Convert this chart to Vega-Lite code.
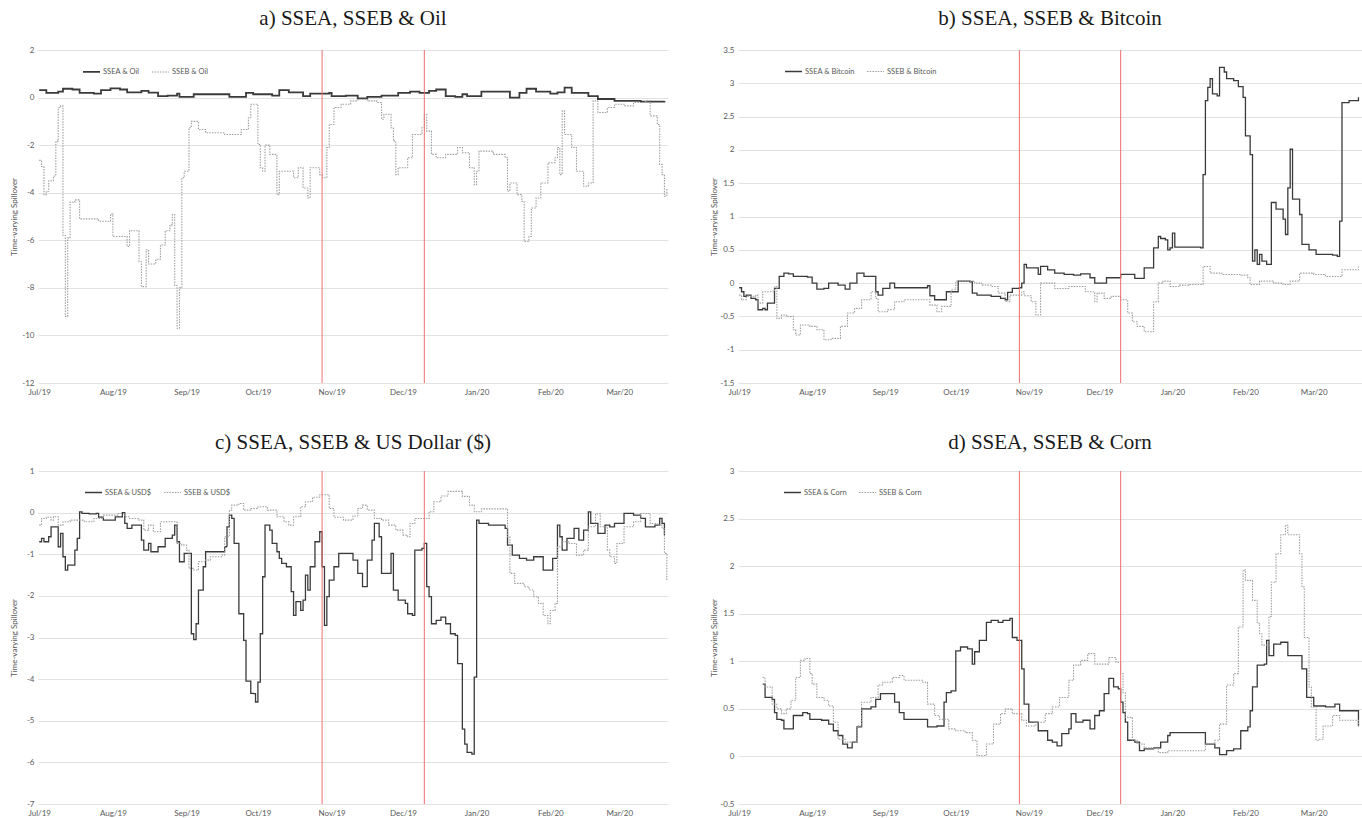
{
  "$schema": "https://vega.github.io/schema/vega-lite/v6.json",
  "background": "white",
  "padding": {"left": 10, "top": 8, "right": 0, "bottom": 0},
  "columns": 2,
  "spacing": {"row": 36, "column": 40},
  "datasets": {
    "events": [
      {"event": "first", "date": "2019-10-28"},
      {"event": "second", "date": "2019-12-10"}
    ],
    "oil": [
      {"date": "2019-07-01", "series": "SSEA & Oil", "value": 0.31},
      {"date": "2019-07-04", "series": "SSEA & Oil", "value": 0.2},
      {"date": "2019-07-09", "series": "SSEA & Oil", "value": 0.25},
      {"date": "2019-07-11", "series": "SSEA & Oil", "value": 0.37},
      {"date": "2019-07-15", "series": "SSEA & Oil", "value": 0.34},
      {"date": "2019-07-18", "series": "SSEA & Oil", "value": 0.2},
      {"date": "2019-07-24", "series": "SSEA & Oil", "value": 0.17},
      {"date": "2019-07-27", "series": "SSEA & Oil", "value": 0.31},
      {"date": "2019-07-31", "series": "SSEA & Oil", "value": 0.39},
      {"date": "2019-08-04", "series": "SSEA & Oil", "value": 0.34},
      {"date": "2019-08-07", "series": "SSEA & Oil", "value": 0.22},
      {"date": "2019-08-13", "series": "SSEA & Oil", "value": 0.28},
      {"date": "2019-08-16", "series": "SSEA & Oil", "value": 0.21},
      {"date": "2019-08-20", "series": "SSEA & Oil", "value": 0.06},
      {"date": "2019-08-24", "series": "SSEA & Oil", "value": 0.08},
      {"date": "2019-08-28", "series": "SSEA & Oil", "value": 0.17},
      {"date": "2019-08-29", "series": "SSEA & Oil", "value": 0.03},
      {"date": "2019-09-02", "series": "SSEA & Oil", "value": 0.03},
      {"date": "2019-09-04", "series": "SSEA & Oil", "value": 0.14},
      {"date": "2019-09-15", "series": "SSEA & Oil", "value": 0.14},
      {"date": "2019-09-19", "series": "SSEA & Oil", "value": 0.03},
      {"date": "2019-09-24", "series": "SSEA & Oil", "value": 0.03},
      {"date": "2019-09-26", "series": "SSEA & Oil", "value": 0.2},
      {"date": "2019-09-29", "series": "SSEA & Oil", "value": 0.14},
      {"date": "2019-10-07", "series": "SSEA & Oil", "value": 0.08},
      {"date": "2019-10-10", "series": "SSEA & Oil", "value": 0.31},
      {"date": "2019-10-14", "series": "SSEA & Oil", "value": 0.22},
      {"date": "2019-10-20", "series": "SSEA & Oil", "value": 0.06},
      {"date": "2019-10-23", "series": "SSEA & Oil", "value": 0.17},
      {"date": "2019-10-31", "series": "SSEA & Oil", "value": 0.2},
      {"date": "2019-11-01", "series": "SSEA & Oil", "value": 0.06},
      {"date": "2019-11-07", "series": "SSEA & Oil", "value": 0.08},
      {"date": "2019-11-12", "series": "SSEA & Oil", "value": -0.03},
      {"date": "2019-11-16", "series": "SSEA & Oil", "value": 0.03},
      {"date": "2019-11-22", "series": "SSEA & Oil", "value": 0.08},
      {"date": "2019-11-29", "series": "SSEA & Oil", "value": 0.2},
      {"date": "2019-12-04", "series": "SSEA & Oil", "value": 0.25},
      {"date": "2019-12-08", "series": "SSEA & Oil", "value": 0.2},
      {"date": "2019-12-12", "series": "SSEA & Oil", "value": 0.28},
      {"date": "2019-12-15", "series": "SSEA & Oil", "value": 0.34},
      {"date": "2019-12-19", "series": "SSEA & Oil", "value": 0.06},
      {"date": "2019-12-23", "series": "SSEA & Oil", "value": 0.03},
      {"date": "2019-12-26", "series": "SSEA & Oil", "value": 0.14},
      {"date": "2019-12-28", "series": "SSEA & Oil", "value": 0.06},
      {"date": "2020-01-03", "series": "SSEA & Oil", "value": 0.25},
      {"date": "2020-01-14", "series": "SSEA & Oil", "value": 0.25},
      {"date": "2020-01-15", "series": "SSEA & Oil", "value": 0},
      {"date": "2020-01-19", "series": "SSEA & Oil", "value": 0.2},
      {"date": "2020-01-22", "series": "SSEA & Oil", "value": 0.37},
      {"date": "2020-01-26", "series": "SSEA & Oil", "value": 0.25},
      {"date": "2020-02-01", "series": "SSEA & Oil", "value": 0.17},
      {"date": "2020-02-04", "series": "SSEA & Oil", "value": 0.22},
      {"date": "2020-02-07", "series": "SSEA & Oil", "value": 0.42},
      {"date": "2020-02-10", "series": "SSEA & Oil", "value": 0.2},
      {"date": "2020-02-17", "series": "SSEA & Oil", "value": 0.06},
      {"date": "2020-02-21", "series": "SSEA & Oil", "value": -0.06},
      {"date": "2020-02-28", "series": "SSEA & Oil", "value": -0.14},
      {"date": "2020-03-10", "series": "SSEA & Oil", "value": -0.17},
      {"date": "2020-03-20", "series": "SSEA & Oil", "value": -0.14},
      {"date": "2019-07-01", "series": "SSEB & Oil", "value": -2.64},
      {"date": "2019-07-02", "series": "SSEB & Oil", "value": -2.9},
      {"date": "2019-07-03", "series": "SSEB & Oil", "value": -4.08},
      {"date": "2019-07-04", "series": "SSEB & Oil", "value": -3.94},
      {"date": "2019-07-05", "series": "SSEB & Oil", "value": -3.5},
      {"date": "2019-07-07", "series": "SSEB & Oil", "value": -3.3},
      {"date": "2019-07-08", "series": "SSEB & Oil", "value": -1.83},
      {"date": "2019-07-09", "series": "SSEB & Oil", "value": -0.42},
      {"date": "2019-07-10", "series": "SSEB & Oil", "value": -0.35},
      {"date": "2019-07-11", "series": "SSEB & Oil", "value": -5.8},
      {"date": "2019-07-12", "series": "SSEB & Oil", "value": -9.2},
      {"date": "2019-07-13", "series": "SSEB & Oil", "value": -5.9},
      {"date": "2019-07-14", "series": "SSEB & Oil", "value": -4.4},
      {"date": "2019-07-15", "series": "SSEB & Oil", "value": -4.4},
      {"date": "2019-07-16", "series": "SSEB & Oil", "value": -4.3},
      {"date": "2019-07-18", "series": "SSEB & Oil", "value": -5.1},
      {"date": "2019-07-20", "series": "SSEB & Oil", "value": -5.1},
      {"date": "2019-07-26", "series": "SSEB & Oil", "value": -5.2},
      {"date": "2019-07-30", "series": "SSEB & Oil", "value": -5.2},
      {"date": "2019-07-31", "series": "SSEB & Oil", "value": -4.9},
      {"date": "2019-08-01", "series": "SSEB & Oil", "value": -5.84},
      {"date": "2019-08-05", "series": "SSEB & Oil", "value": -5.84},
      {"date": "2019-08-07", "series": "SSEB & Oil", "value": -6.26},
      {"date": "2019-08-08", "series": "SSEB & Oil", "value": -5.6},
      {"date": "2019-08-11", "series": "SSEB & Oil", "value": -5.6},
      {"date": "2019-08-12", "series": "SSEB & Oil", "value": -6.9},
      {"date": "2019-08-13", "series": "SSEB & Oil", "value": -7.95},
      {"date": "2019-08-14", "series": "SSEB & Oil", "value": -7.95},
      {"date": "2019-08-15", "series": "SSEB & Oil", "value": -6.4},
      {"date": "2019-08-16", "series": "SSEB & Oil", "value": -7.0},
      {"date": "2019-08-19", "series": "SSEB & Oil", "value": -6.8},
      {"date": "2019-08-21", "series": "SSEB & Oil", "value": -6.2},
      {"date": "2019-08-23", "series": "SSEB & Oil", "value": -5.6},
      {"date": "2019-08-25", "series": "SSEB & Oil", "value": -5.35},
      {"date": "2019-08-26", "series": "SSEB & Oil", "value": -4.92},
      {"date": "2019-08-27", "series": "SSEB & Oil", "value": -7.9},
      {"date": "2019-08-28", "series": "SSEB & Oil", "value": -9.7},
      {"date": "2019-08-29", "series": "SSEB & Oil", "value": -8.0},
      {"date": "2019-08-30", "series": "SSEB & Oil", "value": -3.37},
      {"date": "2019-08-31", "series": "SSEB & Oil", "value": -3.1},
      {"date": "2019-09-02", "series": "SSEB & Oil", "value": -1.27},
      {"date": "2019-09-03", "series": "SSEB & Oil", "value": -1.0},
      {"date": "2019-09-06", "series": "SSEB & Oil", "value": -1.34},
      {"date": "2019-09-09", "series": "SSEB & Oil", "value": -1.48},
      {"date": "2019-09-17", "series": "SSEB & Oil", "value": -1.55},
      {"date": "2019-09-20", "series": "SSEB & Oil", "value": -1.55},
      {"date": "2019-09-24", "series": "SSEB & Oil", "value": -1.34},
      {"date": "2019-09-27", "series": "SSEB & Oil", "value": -0.85},
      {"date": "2019-09-28", "series": "SSEB & Oil", "value": -0.28},
      {"date": "2019-09-30", "series": "SSEB & Oil", "value": -0.28},
      {"date": "2019-10-01", "series": "SSEB & Oil", "value": -1.97},
      {"date": "2019-10-02", "series": "SSEB & Oil", "value": -2.95},
      {"date": "2019-10-03", "series": "SSEB & Oil", "value": -3.1},
      {"date": "2019-10-04", "series": "SSEB & Oil", "value": -2.0},
      {"date": "2019-10-06", "series": "SSEB & Oil", "value": -2.39},
      {"date": "2019-10-09", "series": "SSEB & Oil", "value": -4.08},
      {"date": "2019-10-10", "series": "SSEB & Oil", "value": -3.1},
      {"date": "2019-10-14", "series": "SSEB & Oil", "value": -3.1},
      {"date": "2019-10-16", "series": "SSEB & Oil", "value": -3.37},
      {"date": "2019-10-18", "series": "SSEB & Oil", "value": -2.95},
      {"date": "2019-10-20", "series": "SSEB & Oil", "value": -3.8},
      {"date": "2019-10-22", "series": "SSEB & Oil", "value": -4.22},
      {"date": "2019-10-23", "series": "SSEB & Oil", "value": -2.95},
      {"date": "2019-10-25", "series": "SSEB & Oil", "value": -2.95},
      {"date": "2019-10-27", "series": "SSEB & Oil", "value": -3.24},
      {"date": "2019-10-28", "series": "SSEB & Oil", "value": -3.37},
      {"date": "2019-10-30", "series": "SSEB & Oil", "value": -2.1},
      {"date": "2019-10-31", "series": "SSEB & Oil", "value": -1.13},
      {"date": "2019-11-02", "series": "SSEB & Oil", "value": -0.42},
      {"date": "2019-11-05", "series": "SSEB & Oil", "value": -0.28},
      {"date": "2019-11-09", "series": "SSEB & Oil", "value": -0.14},
      {"date": "2019-11-12", "series": "SSEB & Oil", "value": -0.07},
      {"date": "2019-11-16", "series": "SSEB & Oil", "value": -0.14},
      {"date": "2019-11-20", "series": "SSEB & Oil", "value": -0.21},
      {"date": "2019-11-22", "series": "SSEB & Oil", "value": -0.91},
      {"date": "2019-11-23", "series": "SSEB & Oil", "value": -0.7},
      {"date": "2019-11-26", "series": "SSEB & Oil", "value": -1.27},
      {"date": "2019-11-27", "series": "SSEB & Oil", "value": -1.83},
      {"date": "2019-11-28", "series": "SSEB & Oil", "value": -3.24},
      {"date": "2019-11-29", "series": "SSEB & Oil", "value": -2.95},
      {"date": "2019-12-01", "series": "SSEB & Oil", "value": -2.95},
      {"date": "2019-12-03", "series": "SSEB & Oil", "value": -2.53},
      {"date": "2019-12-05", "series": "SSEB & Oil", "value": -1.55},
      {"date": "2019-12-09", "series": "SSEB & Oil", "value": -1.27},
      {"date": "2019-12-10", "series": "SSEB & Oil", "value": -0.7},
      {"date": "2019-12-11", "series": "SSEB & Oil", "value": -1.41},
      {"date": "2019-12-13", "series": "SSEB & Oil", "value": -2.39},
      {"date": "2019-12-15", "series": "SSEB & Oil", "value": -2.53},
      {"date": "2019-12-19", "series": "SSEB & Oil", "value": -2.39},
      {"date": "2019-12-24", "series": "SSEB & Oil", "value": -2.1},
      {"date": "2019-12-26", "series": "SSEB & Oil", "value": -2.32},
      {"date": "2019-12-29", "series": "SSEB & Oil", "value": -2.95},
      {"date": "2019-12-31", "series": "SSEB & Oil", "value": -3.66},
      {"date": "2020-01-01", "series": "SSEB & Oil", "value": -3.1},
      {"date": "2020-01-02", "series": "SSEB & Oil", "value": -2.25},
      {"date": "2020-01-08", "series": "SSEB & Oil", "value": -2.39},
      {"date": "2020-01-13", "series": "SSEB & Oil", "value": -2.53},
      {"date": "2020-01-14", "series": "SSEB & Oil", "value": -3.94},
      {"date": "2020-01-15", "series": "SSEB & Oil", "value": -3.59},
      {"date": "2020-01-18", "series": "SSEB & Oil", "value": -4.08},
      {"date": "2020-01-20", "series": "SSEB & Oil", "value": -4.36},
      {"date": "2020-01-21", "series": "SSEB & Oil", "value": -6.05},
      {"date": "2020-01-23", "series": "SSEB & Oil", "value": -5.84},
      {"date": "2020-01-24", "series": "SSEB & Oil", "value": -4.64},
      {"date": "2020-01-26", "series": "SSEB & Oil", "value": -4.22},
      {"date": "2020-01-28", "series": "SSEB & Oil", "value": -3.59},
      {"date": "2020-01-31", "series": "SSEB & Oil", "value": -2.74},
      {"date": "2020-02-03", "series": "SSEB & Oil", "value": -2.53},
      {"date": "2020-02-04", "series": "SSEB & Oil", "value": -2.1},
      {"date": "2020-02-05", "series": "SSEB & Oil", "value": -3.24},
      {"date": "2020-02-06", "series": "SSEB & Oil", "value": -0.56},
      {"date": "2020-02-07", "series": "SSEB & Oil", "value": -1.55},
      {"date": "2020-02-10", "series": "SSEB & Oil", "value": -2.1},
      {"date": "2020-02-12", "series": "SSEB & Oil", "value": -3.1},
      {"date": "2020-02-15", "series": "SSEB & Oil", "value": -3.73},
      {"date": "2020-02-17", "series": "SSEB & Oil", "value": -3.59},
      {"date": "2020-02-19", "series": "SSEB & Oil", "value": -0.14},
      {"date": "2020-02-21", "series": "SSEB & Oil", "value": -0.63},
      {"date": "2020-02-25", "series": "SSEB & Oil", "value": -0.42},
      {"date": "2020-02-28", "series": "SSEB & Oil", "value": -0.28},
      {"date": "2020-03-03", "series": "SSEB & Oil", "value": -0.35},
      {"date": "2020-03-07", "series": "SSEB & Oil", "value": -0.21},
      {"date": "2020-03-12", "series": "SSEB & Oil", "value": -0.14},
      {"date": "2020-03-14", "series": "SSEB & Oil", "value": -0.77},
      {"date": "2020-03-17", "series": "SSEB & Oil", "value": -1.13},
      {"date": "2020-03-18", "series": "SSEB & Oil", "value": -2.81},
      {"date": "2020-03-19", "series": "SSEB & Oil", "value": -3.24},
      {"date": "2020-03-20", "series": "SSEB & Oil", "value": -4.15},
      {"date": "2020-03-21", "series": "SSEB & Oil", "value": -3.8}
    ],
    "bitcoin": [
      {"date": "2019-07-01", "series": "SSEA & Bitcoin", "value": -0.07},
      {"date": "2019-07-02", "series": "SSEA & Bitcoin", "value": -0.13},
      {"date": "2019-07-03", "series": "SSEA & Bitcoin", "value": -0.2},
      {"date": "2019-07-04", "series": "SSEA & Bitcoin", "value": -0.18},
      {"date": "2019-07-06", "series": "SSEA & Bitcoin", "value": -0.23},
      {"date": "2019-07-08", "series": "SSEA & Bitcoin", "value": -0.25},
      {"date": "2019-07-09", "series": "SSEA & Bitcoin", "value": -0.4},
      {"date": "2019-07-11", "series": "SSEA & Bitcoin", "value": -0.38},
      {"date": "2019-07-12", "series": "SSEA & Bitcoin", "value": -0.4},
      {"date": "2019-07-13", "series": "SSEA & Bitcoin", "value": -0.3},
      {"date": "2019-07-15", "series": "SSEA & Bitcoin", "value": -0.3},
      {"date": "2019-07-16", "series": "SSEA & Bitcoin", "value": -0.08},
      {"date": "2019-07-18", "series": "SSEA & Bitcoin", "value": 0.1},
      {"date": "2019-07-20", "series": "SSEA & Bitcoin", "value": 0.15},
      {"date": "2019-07-22", "series": "SSEA & Bitcoin", "value": 0.14},
      {"date": "2019-07-24", "series": "SSEA & Bitcoin", "value": 0.1},
      {"date": "2019-07-30", "series": "SSEA & Bitcoin", "value": 0.09},
      {"date": "2019-08-01", "series": "SSEA & Bitcoin", "value": 0},
      {"date": "2019-08-03", "series": "SSEA & Bitcoin", "value": -0.09},
      {"date": "2019-08-06", "series": "SSEA & Bitcoin", "value": -0.08},
      {"date": "2019-08-08", "series": "SSEA & Bitcoin", "value": 0},
      {"date": "2019-08-12", "series": "SSEA & Bitcoin", "value": -0.03},
      {"date": "2019-08-15", "series": "SSEA & Bitcoin", "value": -0.09},
      {"date": "2019-08-17", "series": "SSEA & Bitcoin", "value": 0},
      {"date": "2019-08-20", "series": "SSEA & Bitcoin", "value": 0.15},
      {"date": "2019-08-22", "series": "SSEA & Bitcoin", "value": 0.15},
      {"date": "2019-08-23", "series": "SSEA & Bitcoin", "value": 0.1},
      {"date": "2019-08-26", "series": "SSEA & Bitcoin", "value": 0.1},
      {"date": "2019-08-28", "series": "SSEA & Bitcoin", "value": -0.13},
      {"date": "2019-08-29", "series": "SSEA & Bitcoin", "value": -0.18},
      {"date": "2019-08-31", "series": "SSEA & Bitcoin", "value": -0.08},
      {"date": "2019-09-03", "series": "SSEA & Bitcoin", "value": 0},
      {"date": "2019-09-05", "series": "SSEA & Bitcoin", "value": -0.07},
      {"date": "2019-09-07", "series": "SSEA & Bitcoin", "value": -0.07},
      {"date": "2019-09-19", "series": "SSEA & Bitcoin", "value": -0.04},
      {"date": "2019-09-20", "series": "SSEA & Bitcoin", "value": -0.19},
      {"date": "2019-09-22", "series": "SSEA & Bitcoin", "value": -0.25},
      {"date": "2019-09-25", "series": "SSEA & Bitcoin", "value": -0.25},
      {"date": "2019-09-27", "series": "SSEA & Bitcoin", "value": -0.13},
      {"date": "2019-09-30", "series": "SSEA & Bitcoin", "value": -0.13},
      {"date": "2019-10-02", "series": "SSEA & Bitcoin", "value": 0.03},
      {"date": "2019-10-07", "series": "SSEA & Bitcoin", "value": 0.02},
      {"date": "2019-10-08", "series": "SSEA & Bitcoin", "value": -0.15},
      {"date": "2019-10-10", "series": "SSEA & Bitcoin", "value": -0.18},
      {"date": "2019-10-14", "series": "SSEA & Bitcoin", "value": -0.18},
      {"date": "2019-10-16", "series": "SSEA & Bitcoin", "value": -0.2},
      {"date": "2019-10-20", "series": "SSEA & Bitcoin", "value": -0.23},
      {"date": "2019-10-22", "series": "SSEA & Bitcoin", "value": -0.25},
      {"date": "2019-10-23", "series": "SSEA & Bitcoin", "value": -0.14},
      {"date": "2019-10-25", "series": "SSEA & Bitcoin", "value": -0.08},
      {"date": "2019-10-28", "series": "SSEA & Bitcoin", "value": -0.07},
      {"date": "2019-10-29", "series": "SSEA & Bitcoin", "value": 0},
      {"date": "2019-10-30", "series": "SSEA & Bitcoin", "value": 0.28},
      {"date": "2019-10-31", "series": "SSEA & Bitcoin", "value": 0.23},
      {"date": "2019-11-03", "series": "SSEA & Bitcoin", "value": 0.23},
      {"date": "2019-11-05", "series": "SSEA & Bitcoin", "value": 0.13},
      {"date": "2019-11-06", "series": "SSEA & Bitcoin", "value": 0.25},
      {"date": "2019-11-09", "series": "SSEA & Bitcoin", "value": 0.2},
      {"date": "2019-11-12", "series": "SSEA & Bitcoin", "value": 0.15},
      {"date": "2019-11-16", "series": "SSEA & Bitcoin", "value": 0.13},
      {"date": "2019-11-20", "series": "SSEA & Bitcoin", "value": 0.12},
      {"date": "2019-11-23", "series": "SSEA & Bitcoin", "value": 0.14},
      {"date": "2019-11-27", "series": "SSEA & Bitcoin", "value": 0.08},
      {"date": "2019-11-29", "series": "SSEA & Bitcoin", "value": 0},
      {"date": "2019-12-01", "series": "SSEA & Bitcoin", "value": 0},
      {"date": "2019-12-04", "series": "SSEA & Bitcoin", "value": 0.08},
      {"date": "2019-12-08", "series": "SSEA & Bitcoin", "value": 0.08},
      {"date": "2019-12-10", "series": "SSEA & Bitcoin", "value": 0.13},
      {"date": "2019-12-13", "series": "SSEA & Bitcoin", "value": 0.13},
      {"date": "2019-12-16", "series": "SSEA & Bitcoin", "value": 0.07},
      {"date": "2019-12-20", "series": "SSEA & Bitcoin", "value": 0.23},
      {"date": "2019-12-23", "series": "SSEA & Bitcoin", "value": 0.23},
      {"date": "2019-12-24", "series": "SSEA & Bitcoin", "value": 0.53},
      {"date": "2019-12-26", "series": "SSEA & Bitcoin", "value": 0.7},
      {"date": "2019-12-27", "series": "SSEA & Bitcoin", "value": 0.67},
      {"date": "2019-12-29", "series": "SSEA & Bitcoin", "value": 0.65},
      {"date": "2019-12-30", "series": "SSEA & Bitcoin", "value": 0.5},
      {"date": "2019-12-31", "series": "SSEA & Bitcoin", "value": 0.53},
      {"date": "2020-01-01", "series": "SSEA & Bitcoin", "value": 0.75},
      {"date": "2020-01-02", "series": "SSEA & Bitcoin", "value": 0.54},
      {"date": "2020-01-08", "series": "SSEA & Bitcoin", "value": 0.54},
      {"date": "2020-01-13", "series": "SSEA & Bitcoin", "value": 0.53},
      {"date": "2020-01-14", "series": "SSEA & Bitcoin", "value": 1.63},
      {"date": "2020-01-15", "series": "SSEA & Bitcoin", "value": 2.74},
      {"date": "2020-01-16", "series": "SSEA & Bitcoin", "value": 2.94},
      {"date": "2020-01-17", "series": "SSEA & Bitcoin", "value": 3.07},
      {"date": "2020-01-18", "series": "SSEA & Bitcoin", "value": 2.84},
      {"date": "2020-01-20", "series": "SSEA & Bitcoin", "value": 2.81},
      {"date": "2020-01-21", "series": "SSEA & Bitcoin", "value": 3.24},
      {"date": "2020-01-23", "series": "SSEA & Bitcoin", "value": 3.17},
      {"date": "2020-01-24", "series": "SSEA & Bitcoin", "value": 3.07},
      {"date": "2020-01-27", "series": "SSEA & Bitcoin", "value": 3.04},
      {"date": "2020-01-29", "series": "SSEA & Bitcoin", "value": 2.95},
      {"date": "2020-01-31", "series": "SSEA & Bitcoin", "value": 2.79},
      {"date": "2020-02-01", "series": "SSEA & Bitcoin", "value": 2.21},
      {"date": "2020-02-03", "series": "SSEA & Bitcoin", "value": 1.93},
      {"date": "2020-02-04", "series": "SSEA & Bitcoin", "value": 0.33},
      {"date": "2020-02-05", "series": "SSEA & Bitcoin", "value": 0.5},
      {"date": "2020-02-06", "series": "SSEA & Bitcoin", "value": 0.28},
      {"date": "2020-02-07", "series": "SSEA & Bitcoin", "value": 0.43},
      {"date": "2020-02-08", "series": "SSEA & Bitcoin", "value": 0.33},
      {"date": "2020-02-10", "series": "SSEA & Bitcoin", "value": 0.28},
      {"date": "2020-02-12", "series": "SSEA & Bitcoin", "value": 1.21},
      {"date": "2020-02-14", "series": "SSEA & Bitcoin", "value": 1.11},
      {"date": "2020-02-16", "series": "SSEA & Bitcoin", "value": 1.11},
      {"date": "2020-02-17", "series": "SSEA & Bitcoin", "value": 0.96},
      {"date": "2020-02-18", "series": "SSEA & Bitcoin", "value": 0.73},
      {"date": "2020-02-19", "series": "SSEA & Bitcoin", "value": 1.43},
      {"date": "2020-02-20", "series": "SSEA & Bitcoin", "value": 2.01},
      {"date": "2020-02-21", "series": "SSEA & Bitcoin", "value": 1.26},
      {"date": "2020-02-24", "series": "SSEA & Bitcoin", "value": 1.03},
      {"date": "2020-02-25", "series": "SSEA & Bitcoin", "value": 0.58},
      {"date": "2020-02-28", "series": "SSEA & Bitcoin", "value": 0.5},
      {"date": "2020-03-02", "series": "SSEA & Bitcoin", "value": 0.43},
      {"date": "2020-03-09", "series": "SSEA & Bitcoin", "value": 0.42},
      {"date": "2020-03-11", "series": "SSEA & Bitcoin", "value": 0.4},
      {"date": "2020-03-12", "series": "SSEA & Bitcoin", "value": 0.93},
      {"date": "2020-03-13", "series": "SSEA & Bitcoin", "value": 2.71},
      {"date": "2020-03-16", "series": "SSEA & Bitcoin", "value": 2.74},
      {"date": "2020-03-20", "series": "SSEA & Bitcoin", "value": 2.79},
      {"date": "2019-07-01", "series": "SSEB & Bitcoin", "value": -0.18},
      {"date": "2019-07-02", "series": "SSEB & Bitcoin", "value": -0.25},
      {"date": "2019-07-04", "series": "SSEB & Bitcoin", "value": -0.2},
      {"date": "2019-07-08", "series": "SSEB & Bitcoin", "value": -0.18},
      {"date": "2019-07-09", "series": "SSEB & Bitcoin", "value": -0.3},
      {"date": "2019-07-11", "series": "SSEB & Bitcoin", "value": -0.13},
      {"date": "2019-07-15", "series": "SSEB & Bitcoin", "value": -0.13},
      {"date": "2019-07-16", "series": "SSEB & Bitcoin", "value": -0.05},
      {"date": "2019-07-17", "series": "SSEB & Bitcoin", "value": -0.53},
      {"date": "2019-07-19", "series": "SSEB & Bitcoin", "value": -0.48},
      {"date": "2019-07-21", "series": "SSEB & Bitcoin", "value": -0.5},
      {"date": "2019-07-24", "series": "SSEB & Bitcoin", "value": -0.7},
      {"date": "2019-07-25", "series": "SSEB & Bitcoin", "value": -0.78},
      {"date": "2019-07-27", "series": "SSEB & Bitcoin", "value": -0.63},
      {"date": "2019-07-31", "series": "SSEB & Bitcoin", "value": -0.65},
      {"date": "2019-08-03", "series": "SSEB & Bitcoin", "value": -0.7},
      {"date": "2019-08-05", "series": "SSEB & Bitcoin", "value": -0.7},
      {"date": "2019-08-06", "series": "SSEB & Bitcoin", "value": -0.85},
      {"date": "2019-08-09", "series": "SSEB & Bitcoin", "value": -0.83},
      {"date": "2019-08-11", "series": "SSEB & Bitcoin", "value": -0.83},
      {"date": "2019-08-13", "series": "SSEB & Bitcoin", "value": -0.65},
      {"date": "2019-08-16", "series": "SSEB & Bitcoin", "value": -0.45},
      {"date": "2019-08-19", "series": "SSEB & Bitcoin", "value": -0.38},
      {"date": "2019-08-22", "series": "SSEB & Bitcoin", "value": -0.25},
      {"date": "2019-08-26", "series": "SSEB & Bitcoin", "value": -0.13},
      {"date": "2019-08-28", "series": "SSEB & Bitcoin", "value": -0.23},
      {"date": "2019-08-29", "series": "SSEB & Bitcoin", "value": -0.43},
      {"date": "2019-09-02", "series": "SSEB & Bitcoin", "value": -0.4},
      {"date": "2019-09-05", "series": "SSEB & Bitcoin", "value": -0.28},
      {"date": "2019-09-09", "series": "SSEB & Bitcoin", "value": -0.25},
      {"date": "2019-09-18", "series": "SSEB & Bitcoin", "value": -0.25},
      {"date": "2019-09-20", "series": "SSEB & Bitcoin", "value": -0.33},
      {"date": "2019-09-23", "series": "SSEB & Bitcoin", "value": -0.43},
      {"date": "2019-09-25", "series": "SSEB & Bitcoin", "value": -0.35},
      {"date": "2019-09-29", "series": "SSEB & Bitcoin", "value": -0.1},
      {"date": "2019-10-01", "series": "SSEB & Bitcoin", "value": 0.03},
      {"date": "2019-10-05", "series": "SSEB & Bitcoin", "value": 0.03},
      {"date": "2019-10-09", "series": "SSEB & Bitcoin", "value": 0},
      {"date": "2019-10-12", "series": "SSEB & Bitcoin", "value": -0.03},
      {"date": "2019-10-16", "series": "SSEB & Bitcoin", "value": -0.05},
      {"date": "2019-10-19", "series": "SSEB & Bitcoin", "value": -0.15},
      {"date": "2019-10-22", "series": "SSEB & Bitcoin", "value": -0.28},
      {"date": "2019-10-24", "series": "SSEB & Bitcoin", "value": -0.18},
      {"date": "2019-10-27", "series": "SSEB & Bitcoin", "value": -0.18},
      {"date": "2019-10-29", "series": "SSEB & Bitcoin", "value": -0.13},
      {"date": "2019-10-30", "series": "SSEB & Bitcoin", "value": -0.19},
      {"date": "2019-11-02", "series": "SSEB & Bitcoin", "value": -0.28},
      {"date": "2019-11-04", "series": "SSEB & Bitcoin", "value": -0.48},
      {"date": "2019-11-06", "series": "SSEB & Bitcoin", "value": 0},
      {"date": "2019-11-09", "series": "SSEB & Bitcoin", "value": 0},
      {"date": "2019-11-12", "series": "SSEB & Bitcoin", "value": -0.08},
      {"date": "2019-11-18", "series": "SSEB & Bitcoin", "value": -0.05},
      {"date": "2019-11-21", "series": "SSEB & Bitcoin", "value": -0.05},
      {"date": "2019-11-25", "series": "SSEB & Bitcoin", "value": -0.13},
      {"date": "2019-11-29", "series": "SSEB & Bitcoin", "value": -0.28},
      {"date": "2019-11-30", "series": "SSEB & Bitcoin", "value": -0.15},
      {"date": "2019-12-03", "series": "SSEB & Bitcoin", "value": -0.23},
      {"date": "2019-12-06", "series": "SSEB & Bitcoin", "value": -0.2},
      {"date": "2019-12-09", "series": "SSEB & Bitcoin", "value": -0.2},
      {"date": "2019-12-10", "series": "SSEB & Bitcoin", "value": -0.25},
      {"date": "2019-12-13", "series": "SSEB & Bitcoin", "value": -0.45},
      {"date": "2019-12-15", "series": "SSEB & Bitcoin", "value": -0.58},
      {"date": "2019-12-17", "series": "SSEB & Bitcoin", "value": -0.65},
      {"date": "2019-12-20", "series": "SSEB & Bitcoin", "value": -0.73},
      {"date": "2019-12-23", "series": "SSEB & Bitcoin", "value": -0.73},
      {"date": "2019-12-24", "series": "SSEB & Bitcoin", "value": -0.28},
      {"date": "2019-12-26", "series": "SSEB & Bitcoin", "value": 0},
      {"date": "2019-12-28", "series": "SSEB & Bitcoin", "value": 0.03},
      {"date": "2019-12-31", "series": "SSEB & Bitcoin", "value": -0.05},
      {"date": "2020-01-04", "series": "SSEB & Bitcoin", "value": -0.03},
      {"date": "2020-01-08", "series": "SSEB & Bitcoin", "value": -0.02},
      {"date": "2020-01-13", "series": "SSEB & Bitcoin", "value": -0.02},
      {"date": "2020-01-14", "series": "SSEB & Bitcoin", "value": 0.25},
      {"date": "2020-01-17", "series": "SSEB & Bitcoin", "value": 0.15},
      {"date": "2020-01-22", "series": "SSEB & Bitcoin", "value": 0.13},
      {"date": "2020-01-30", "series": "SSEB & Bitcoin", "value": 0.12},
      {"date": "2020-02-02", "series": "SSEB & Bitcoin", "value": 0.08},
      {"date": "2020-02-03", "series": "SSEB & Bitcoin", "value": -0.02},
      {"date": "2020-02-07", "series": "SSEB & Bitcoin", "value": 0.03},
      {"date": "2020-02-13", "series": "SSEB & Bitcoin", "value": 0},
      {"date": "2020-02-17", "series": "SSEB & Bitcoin", "value": -0.02},
      {"date": "2020-02-20", "series": "SSEB & Bitcoin", "value": 0.03},
      {"date": "2020-02-24", "series": "SSEB & Bitcoin", "value": 0.15},
      {"date": "2020-03-01", "series": "SSEB & Bitcoin", "value": 0.13},
      {"date": "2020-03-06", "series": "SSEB & Bitcoin", "value": 0.1},
      {"date": "2020-03-11", "series": "SSEB & Bitcoin", "value": 0.1},
      {"date": "2020-03-13", "series": "SSEB & Bitcoin", "value": 0.2},
      {"date": "2020-03-20", "series": "SSEB & Bitcoin", "value": 0.25}
    ],
    "usd": [
      {"date": "2019-07-01", "series": "SSEA & USD$", "value": -0.7},
      {"date": "2019-07-02", "series": "SSEA & USD$", "value": -0.62},
      {"date": "2019-07-03", "series": "SSEA & USD$", "value": -0.7},
      {"date": "2019-07-05", "series": "SSEA & USD$", "value": -0.58},
      {"date": "2019-07-06", "series": "SSEA & USD$", "value": -0.34},
      {"date": "2019-07-08", "series": "SSEA & USD$", "value": -0.34},
      {"date": "2019-07-09", "series": "SSEA & USD$", "value": -0.82},
      {"date": "2019-07-10", "series": "SSEA & USD$", "value": -0.5},
      {"date": "2019-07-11", "series": "SSEA & USD$", "value": -1.06},
      {"date": "2019-07-12", "series": "SSEA & USD$", "value": -1.38},
      {"date": "2019-07-13", "series": "SSEA & USD$", "value": -1.26},
      {"date": "2019-07-15", "series": "SSEA & USD$", "value": -1.26},
      {"date": "2019-07-16", "series": "SSEA & USD$", "value": -0.9},
      {"date": "2019-07-17", "series": "SSEA & USD$", "value": -0.62},
      {"date": "2019-07-18", "series": "SSEA & USD$", "value": 0.02},
      {"date": "2019-07-19", "series": "SSEA & USD$", "value": -0.02},
      {"date": "2019-07-22", "series": "SSEA & USD$", "value": -0.03},
      {"date": "2019-07-25", "series": "SSEA & USD$", "value": -0.02},
      {"date": "2019-07-26", "series": "SSEA & USD$", "value": -0.11},
      {"date": "2019-07-28", "series": "SSEA & USD$", "value": -0.18},
      {"date": "2019-07-31", "series": "SSEA & USD$", "value": -0.18},
      {"date": "2019-08-02", "series": "SSEA & USD$", "value": -0.1},
      {"date": "2019-08-05", "series": "SSEA & USD$", "value": 0},
      {"date": "2019-08-06", "series": "SSEA & USD$", "value": -0.26},
      {"date": "2019-08-07", "series": "SSEA & USD$", "value": -0.38},
      {"date": "2019-08-09", "series": "SSEA & USD$", "value": -0.3},
      {"date": "2019-08-12", "series": "SSEA & USD$", "value": -0.3},
      {"date": "2019-08-13", "series": "SSEA & USD$", "value": -0.66},
      {"date": "2019-08-14", "series": "SSEA & USD$", "value": -0.9},
      {"date": "2019-08-16", "series": "SSEA & USD$", "value": -0.74},
      {"date": "2019-08-17", "series": "SSEA & USD$", "value": -0.94},
      {"date": "2019-08-20", "series": "SSEA & USD$", "value": -0.82},
      {"date": "2019-08-23", "series": "SSEA & USD$", "value": -0.62},
      {"date": "2019-08-26", "series": "SSEA & USD$", "value": -0.54},
      {"date": "2019-08-27", "series": "SSEA & USD$", "value": -0.3},
      {"date": "2019-08-28", "series": "SSEA & USD$", "value": -0.7},
      {"date": "2019-08-29", "series": "SSEA & USD$", "value": -1.18},
      {"date": "2019-08-31", "series": "SSEA & USD$", "value": -0.98},
      {"date": "2019-09-02", "series": "SSEA & USD$", "value": -0.98},
      {"date": "2019-09-03", "series": "SSEA & USD$", "value": -2.91},
      {"date": "2019-09-04", "series": "SSEA & USD$", "value": -3.05},
      {"date": "2019-09-05", "series": "SSEA & USD$", "value": -2.67},
      {"date": "2019-09-06", "series": "SSEA & USD$", "value": -1.86},
      {"date": "2019-09-08", "series": "SSEA & USD$", "value": -1.3},
      {"date": "2019-09-09", "series": "SSEA & USD$", "value": -0.94},
      {"date": "2019-09-17", "series": "SSEA & USD$", "value": -0.82},
      {"date": "2019-09-18", "series": "SSEA & USD$", "value": -0.34},
      {"date": "2019-09-19", "series": "SSEA & USD$", "value": -0.06},
      {"date": "2019-09-20", "series": "SSEA & USD$", "value": -0.14},
      {"date": "2019-09-21", "series": "SSEA & USD$", "value": -0.74},
      {"date": "2019-09-23", "series": "SSEA & USD$", "value": -2.43},
      {"date": "2019-09-25", "series": "SSEA & USD$", "value": -3.07},
      {"date": "2019-09-26", "series": "SSEA & USD$", "value": -4.05},
      {"date": "2019-09-28", "series": "SSEA & USD$", "value": -4.34},
      {"date": "2019-09-29", "series": "SSEA & USD$", "value": -4.35},
      {"date": "2019-09-30", "series": "SSEA & USD$", "value": -4.55},
      {"date": "2019-10-01", "series": "SSEA & USD$", "value": -4.07},
      {"date": "2019-10-02", "series": "SSEA & USD$", "value": -2.91},
      {"date": "2019-10-03", "series": "SSEA & USD$", "value": -1.54},
      {"date": "2019-10-04", "series": "SSEA & USD$", "value": -0.3},
      {"date": "2019-10-06", "series": "SSEA & USD$", "value": -0.42},
      {"date": "2019-10-07", "series": "SSEA & USD$", "value": -0.74},
      {"date": "2019-10-09", "series": "SSEA & USD$", "value": -0.94},
      {"date": "2019-10-10", "series": "SSEA & USD$", "value": -1.1},
      {"date": "2019-10-11", "series": "SSEA & USD$", "value": -1.22},
      {"date": "2019-10-13", "series": "SSEA & USD$", "value": -1.3},
      {"date": "2019-10-15", "series": "SSEA & USD$", "value": -1.9},
      {"date": "2019-10-16", "series": "SSEA & USD$", "value": -2.47},
      {"date": "2019-10-17", "series": "SSEA & USD$", "value": -2.14},
      {"date": "2019-10-19", "series": "SSEA & USD$", "value": -2.35},
      {"date": "2019-10-20", "series": "SSEA & USD$", "value": -2.1},
      {"date": "2019-10-21", "series": "SSEA & USD$", "value": -1.5},
      {"date": "2019-10-22", "series": "SSEA & USD$", "value": -1.86},
      {"date": "2019-10-23", "series": "SSEA & USD$", "value": -1.3},
      {"date": "2019-10-25", "series": "SSEA & USD$", "value": -0.7},
      {"date": "2019-10-27", "series": "SSEA & USD$", "value": -0.46},
      {"date": "2019-10-28", "series": "SSEA & USD$", "value": -1.3},
      {"date": "2019-10-29", "series": "SSEA & USD$", "value": -2.71},
      {"date": "2019-10-30", "series": "SSEA & USD$", "value": -2.02},
      {"date": "2019-10-31", "series": "SSEA & USD$", "value": -1.62},
      {"date": "2019-11-02", "series": "SSEA & USD$", "value": -1.3},
      {"date": "2019-11-04", "series": "SSEA & USD$", "value": -0.98},
      {"date": "2019-11-06", "series": "SSEA & USD$", "value": -0.98},
      {"date": "2019-11-10", "series": "SSEA & USD$", "value": -1.14},
      {"date": "2019-11-12", "series": "SSEA & USD$", "value": -1.46},
      {"date": "2019-11-14", "series": "SSEA & USD$", "value": -1.78},
      {"date": "2019-11-16", "series": "SSEA & USD$", "value": -1.14},
      {"date": "2019-11-18", "series": "SSEA & USD$", "value": -0.66},
      {"date": "2019-11-19", "series": "SSEA & USD$", "value": -0.26},
      {"date": "2019-11-21", "series": "SSEA & USD$", "value": -0.58},
      {"date": "2019-11-22", "series": "SSEA & USD$", "value": -1.46},
      {"date": "2019-11-25", "series": "SSEA & USD$", "value": -1.46},
      {"date": "2019-11-26", "series": "SSEA & USD$", "value": -0.98},
      {"date": "2019-11-27", "series": "SSEA & USD$", "value": -1.86},
      {"date": "2019-11-29", "series": "SSEA & USD$", "value": -2.1},
      {"date": "2019-12-02", "series": "SSEA & USD$", "value": -2.18},
      {"date": "2019-12-03", "series": "SSEA & USD$", "value": -2.43},
      {"date": "2019-12-05", "series": "SSEA & USD$", "value": -2.47},
      {"date": "2019-12-06", "series": "SSEA & USD$", "value": -0.9},
      {"date": "2019-12-09", "series": "SSEA & USD$", "value": -0.86},
      {"date": "2019-12-10", "series": "SSEA & USD$", "value": -0.74},
      {"date": "2019-12-11", "series": "SSEA & USD$", "value": -1.78},
      {"date": "2019-12-12", "series": "SSEA & USD$", "value": -2.02},
      {"date": "2019-12-13", "series": "SSEA & USD$", "value": -2.67},
      {"date": "2019-12-15", "series": "SSEA & USD$", "value": -2.59},
      {"date": "2019-12-17", "series": "SSEA & USD$", "value": -2.51},
      {"date": "2019-12-19", "series": "SSEA & USD$", "value": -2.67},
      {"date": "2019-12-21", "series": "SSEA & USD$", "value": -2.91},
      {"date": "2019-12-23", "series": "SSEA & USD$", "value": -2.95},
      {"date": "2019-12-24", "series": "SSEA & USD$", "value": -3.63},
      {"date": "2019-12-26", "series": "SSEA & USD$", "value": -5.2},
      {"date": "2019-12-27", "series": "SSEA & USD$", "value": -5.56},
      {"date": "2019-12-28", "series": "SSEA & USD$", "value": -5.76},
      {"date": "2019-12-30", "series": "SSEA & USD$", "value": -5.8},
      {"date": "2019-12-31", "series": "SSEA & USD$", "value": -3.95},
      {"date": "2020-01-01", "series": "SSEA & USD$", "value": -0.18},
      {"date": "2020-01-02", "series": "SSEA & USD$", "value": -0.26},
      {"date": "2020-01-06", "series": "SSEA & USD$", "value": -0.3},
      {"date": "2020-01-13", "series": "SSEA & USD$", "value": -0.38},
      {"date": "2020-01-14", "series": "SSEA & USD$", "value": -0.78},
      {"date": "2020-01-16", "series": "SSEA & USD$", "value": -1.02},
      {"date": "2020-01-19", "series": "SSEA & USD$", "value": -1.1},
      {"date": "2020-01-22", "series": "SSEA & USD$", "value": -1.14},
      {"date": "2020-01-25", "series": "SSEA & USD$", "value": -1.06},
      {"date": "2020-01-27", "series": "SSEA & USD$", "value": -1.06},
      {"date": "2020-01-29", "series": "SSEA & USD$", "value": -1.38},
      {"date": "2020-01-31", "series": "SSEA & USD$", "value": -1.38},
      {"date": "2020-02-02", "series": "SSEA & USD$", "value": -1.1},
      {"date": "2020-02-04", "series": "SSEA & USD$", "value": -0.3},
      {"date": "2020-02-05", "series": "SSEA & USD$", "value": -0.58},
      {"date": "2020-02-06", "series": "SSEA & USD$", "value": -0.9},
      {"date": "2020-02-08", "series": "SSEA & USD$", "value": -0.62},
      {"date": "2020-02-11", "series": "SSEA & USD$", "value": -0.38},
      {"date": "2020-02-13", "series": "SSEA & USD$", "value": -0.66},
      {"date": "2020-02-15", "series": "SSEA & USD$", "value": -0.42},
      {"date": "2020-02-17", "series": "SSEA & USD$", "value": 0.02},
      {"date": "2020-02-18", "series": "SSEA & USD$", "value": -0.26},
      {"date": "2020-02-21", "series": "SSEA & USD$", "value": -0.5},
      {"date": "2020-02-24", "series": "SSEA & USD$", "value": -0.3},
      {"date": "2020-02-26", "series": "SSEA & USD$", "value": -0.34},
      {"date": "2020-02-28", "series": "SSEA & USD$", "value": -0.26},
      {"date": "2020-03-03", "series": "SSEA & USD$", "value": -0.02},
      {"date": "2020-03-07", "series": "SSEA & USD$", "value": -0.06},
      {"date": "2020-03-10", "series": "SSEA & USD$", "value": -0.14},
      {"date": "2020-03-12", "series": "SSEA & USD$", "value": -0.34},
      {"date": "2020-03-16", "series": "SSEA & USD$", "value": -0.3},
      {"date": "2020-03-18", "series": "SSEA & USD$", "value": -0.14},
      {"date": "2020-03-19", "series": "SSEA & USD$", "value": -0.26},
      {"date": "2020-03-20", "series": "SSEA & USD$", "value": -0.54},
      {"date": "2019-07-01", "series": "SSEB & USD$", "value": -0.3},
      {"date": "2019-07-02", "series": "SSEB & USD$", "value": -0.14},
      {"date": "2019-07-04", "series": "SSEB & USD$", "value": -0.11},
      {"date": "2019-07-06", "series": "SSEB & USD$", "value": -0.18},
      {"date": "2019-07-07", "series": "SSEB & USD$", "value": -0.1},
      {"date": "2019-07-09", "series": "SSEB & USD$", "value": -0.3},
      {"date": "2019-07-11", "series": "SSEB & USD$", "value": -0.22},
      {"date": "2019-07-14", "series": "SSEB & USD$", "value": -0.18},
      {"date": "2019-07-18", "series": "SSEB & USD$", "value": -0.18},
      {"date": "2019-07-20", "series": "SSEB & USD$", "value": -0.22},
      {"date": "2019-07-24", "series": "SSEB & USD$", "value": -0.14},
      {"date": "2019-07-28", "series": "SSEB & USD$", "value": -0.06},
      {"date": "2019-07-30", "series": "SSEB & USD$", "value": -0.06},
      {"date": "2019-08-03", "series": "SSEB & USD$", "value": -0.02},
      {"date": "2019-08-06", "series": "SSEB & USD$", "value": -0.1},
      {"date": "2019-08-08", "series": "SSEB & USD$", "value": -0.14},
      {"date": "2019-08-12", "series": "SSEB & USD$", "value": -0.18},
      {"date": "2019-08-14", "series": "SSEB & USD$", "value": -0.42},
      {"date": "2019-08-16", "series": "SSEB & USD$", "value": -0.3},
      {"date": "2019-08-18", "series": "SSEB & USD$", "value": -0.46},
      {"date": "2019-08-21", "series": "SSEB & USD$", "value": -0.22},
      {"date": "2019-08-26", "series": "SSEB & USD$", "value": -0.22},
      {"date": "2019-08-28", "series": "SSEB & USD$", "value": -0.74},
      {"date": "2019-08-30", "series": "SSEB & USD$", "value": -0.78},
      {"date": "2019-09-01", "series": "SSEB & USD$", "value": -0.9},
      {"date": "2019-09-02", "series": "SSEB & USD$", "value": -1.34},
      {"date": "2019-09-04", "series": "SSEB & USD$", "value": -1.38},
      {"date": "2019-09-06", "series": "SSEB & USD$", "value": -1.18},
      {"date": "2019-09-09", "series": "SSEB & USD$", "value": -1.14},
      {"date": "2019-09-11", "series": "SSEB & USD$", "value": -1.06},
      {"date": "2019-09-16", "series": "SSEB & USD$", "value": -1.02},
      {"date": "2019-09-17", "series": "SSEB & USD$", "value": -0.58},
      {"date": "2019-09-19", "series": "SSEB & USD$", "value": 0.06},
      {"date": "2019-09-20", "series": "SSEB & USD$", "value": 0.18},
      {"date": "2019-09-23", "series": "SSEB & USD$", "value": 0.22},
      {"date": "2019-09-25", "series": "SSEB & USD$", "value": 0.06},
      {"date": "2019-09-28", "series": "SSEB & USD$", "value": 0.1},
      {"date": "2019-10-01", "series": "SSEB & USD$", "value": 0.14},
      {"date": "2019-10-05", "series": "SSEB & USD$", "value": 0.06},
      {"date": "2019-10-09", "series": "SSEB & USD$", "value": -0.1},
      {"date": "2019-10-12", "series": "SSEB & USD$", "value": -0.22},
      {"date": "2019-10-14", "series": "SSEB & USD$", "value": -0.3},
      {"date": "2019-10-16", "series": "SSEB & USD$", "value": -0.1},
      {"date": "2019-10-19", "series": "SSEB & USD$", "value": 0.14},
      {"date": "2019-10-21", "series": "SSEB & USD$", "value": 0.26},
      {"date": "2019-10-24", "series": "SSEB & USD$", "value": 0.37},
      {"date": "2019-10-27", "series": "SSEB & USD$", "value": 0.43},
      {"date": "2019-10-29", "series": "SSEB & USD$", "value": 0.43},
      {"date": "2019-10-31", "series": "SSEB & USD$", "value": 0.1},
      {"date": "2019-11-02", "series": "SSEB & USD$", "value": -0.11},
      {"date": "2019-11-06", "series": "SSEB & USD$", "value": -0.18},
      {"date": "2019-11-10", "series": "SSEB & USD$", "value": -0.08},
      {"date": "2019-11-12", "series": "SSEB & USD$", "value": 0.1},
      {"date": "2019-11-14", "series": "SSEB & USD$", "value": 0.18},
      {"date": "2019-11-16", "series": "SSEB & USD$", "value": 0.06},
      {"date": "2019-11-19", "series": "SSEB & USD$", "value": -0.14},
      {"date": "2019-11-22", "series": "SSEB & USD$", "value": -0.18},
      {"date": "2019-11-25", "series": "SSEB & USD$", "value": -0.3},
      {"date": "2019-11-28", "series": "SSEB & USD$", "value": -0.42},
      {"date": "2019-12-01", "series": "SSEB & USD$", "value": -0.54},
      {"date": "2019-12-03", "series": "SSEB & USD$", "value": -0.58},
      {"date": "2019-12-04", "series": "SSEB & USD$", "value": -0.26},
      {"date": "2019-12-06", "series": "SSEB & USD$", "value": -0.14},
      {"date": "2019-12-09", "series": "SSEB & USD$", "value": -0.14},
      {"date": "2019-12-12", "series": "SSEB & USD$", "value": 0.02},
      {"date": "2019-12-14", "series": "SSEB & USD$", "value": 0.26},
      {"date": "2019-12-17", "series": "SSEB & USD$", "value": 0.4},
      {"date": "2019-12-20", "series": "SSEB & USD$", "value": 0.51},
      {"date": "2019-12-23", "series": "SSEB & USD$", "value": 0.51},
      {"date": "2019-12-26", "series": "SSEB & USD$", "value": 0.39},
      {"date": "2019-12-29", "series": "SSEB & USD$", "value": 0.18},
      {"date": "2019-12-31", "series": "SSEB & USD$", "value": 0.02},
      {"date": "2020-01-03", "series": "SSEB & USD$", "value": 0.09},
      {"date": "2020-01-08", "series": "SSEB & USD$", "value": 0.09},
      {"date": "2020-01-13", "series": "SSEB & USD$", "value": 0.09},
      {"date": "2020-01-14", "series": "SSEB & USD$", "value": -0.58},
      {"date": "2020-01-15", "series": "SSEB & USD$", "value": -1.46},
      {"date": "2020-01-17", "series": "SSEB & USD$", "value": -1.7},
      {"date": "2020-01-21", "series": "SSEB & USD$", "value": -1.78},
      {"date": "2020-01-23", "series": "SSEB & USD$", "value": -1.86},
      {"date": "2020-01-25", "series": "SSEB & USD$", "value": -2.02},
      {"date": "2020-01-27", "series": "SSEB & USD$", "value": -2.18},
      {"date": "2020-01-29", "series": "SSEB & USD$", "value": -2.47},
      {"date": "2020-01-31", "series": "SSEB & USD$", "value": -2.67},
      {"date": "2020-02-01", "series": "SSEB & USD$", "value": -2.35},
      {"date": "2020-02-03", "series": "SSEB & USD$", "value": -2.18},
      {"date": "2020-02-04", "series": "SSEB & USD$", "value": -0.82},
      {"date": "2020-02-06", "series": "SSEB & USD$", "value": -0.7},
      {"date": "2020-02-09", "series": "SSEB & USD$", "value": -0.74},
      {"date": "2020-02-12", "series": "SSEB & USD$", "value": -1.02},
      {"date": "2020-02-15", "series": "SSEB & USD$", "value": -0.9},
      {"date": "2020-02-17", "series": "SSEB & USD$", "value": -0.34},
      {"date": "2020-02-20", "series": "SSEB & USD$", "value": -0.03},
      {"date": "2020-02-22", "series": "SSEB & USD$", "value": -0.34},
      {"date": "2020-02-25", "series": "SSEB & USD$", "value": -0.9},
      {"date": "2020-02-26", "series": "SSEB & USD$", "value": -1.06},
      {"date": "2020-02-28", "series": "SSEB & USD$", "value": -1.22},
      {"date": "2020-02-29", "series": "SSEB & USD$", "value": -0.74},
      {"date": "2020-03-03", "series": "SSEB & USD$", "value": -0.34},
      {"date": "2020-03-07", "series": "SSEB & USD$", "value": -0.22},
      {"date": "2020-03-10", "series": "SSEB & USD$", "value": -0.02},
      {"date": "2020-03-14", "series": "SSEB & USD$", "value": -0.26},
      {"date": "2020-03-17", "series": "SSEB & USD$", "value": -0.3},
      {"date": "2020-03-19", "series": "SSEB & USD$", "value": -0.38},
      {"date": "2020-03-20", "series": "SSEB & USD$", "value": -0.98},
      {"date": "2020-03-21", "series": "SSEB & USD$", "value": -1.62}
    ],
    "corn": [
      {"date": "2019-07-11", "series": "SSEA & Corn", "value": 0.76},
      {"date": "2019-07-12", "series": "SSEA & Corn", "value": 0.62},
      {"date": "2019-07-15", "series": "SSEA & Corn", "value": 0.6},
      {"date": "2019-07-16", "series": "SSEA & Corn", "value": 0.46},
      {"date": "2019-07-17", "series": "SSEA & Corn", "value": 0.39},
      {"date": "2019-07-19", "series": "SSEA & Corn", "value": 0.38},
      {"date": "2019-07-20", "series": "SSEA & Corn", "value": 0.29},
      {"date": "2019-07-22", "series": "SSEA & Corn", "value": 0.29},
      {"date": "2019-07-24", "series": "SSEA & Corn", "value": 0.43},
      {"date": "2019-07-26", "series": "SSEA & Corn", "value": 0.43},
      {"date": "2019-07-28", "series": "SSEA & Corn", "value": 0.46},
      {"date": "2019-07-30", "series": "SSEA & Corn", "value": 0.45},
      {"date": "2019-07-31", "series": "SSEA & Corn", "value": 0.39},
      {"date": "2019-08-05", "series": "SSEA & Corn", "value": 0.38},
      {"date": "2019-08-08", "series": "SSEA & Corn", "value": 0.34},
      {"date": "2019-08-10", "series": "SSEA & Corn", "value": 0.27},
      {"date": "2019-08-12", "series": "SSEA & Corn", "value": 0.22},
      {"date": "2019-08-14", "series": "SSEA & Corn", "value": 0.13},
      {"date": "2019-08-16", "series": "SSEA & Corn", "value": 0.09},
      {"date": "2019-08-18", "series": "SSEA & Corn", "value": 0.15},
      {"date": "2019-08-19", "series": "SSEA & Corn", "value": 0.15},
      {"date": "2019-08-20", "series": "SSEA & Corn", "value": 0.31},
      {"date": "2019-08-22", "series": "SSEA & Corn", "value": 0.5},
      {"date": "2019-08-26", "series": "SSEA & Corn", "value": 0.52},
      {"date": "2019-08-28", "series": "SSEA & Corn", "value": 0.6},
      {"date": "2019-08-30", "series": "SSEA & Corn", "value": 0.66},
      {"date": "2019-09-03", "series": "SSEA & Corn", "value": 0.66},
      {"date": "2019-09-05", "series": "SSEA & Corn", "value": 0.57},
      {"date": "2019-09-07", "series": "SSEA & Corn", "value": 0.46},
      {"date": "2019-09-09", "series": "SSEA & Corn", "value": 0.39},
      {"date": "2019-09-17", "series": "SSEA & Corn", "value": 0.39},
      {"date": "2019-09-19", "series": "SSEA & Corn", "value": 0.31},
      {"date": "2019-09-23", "series": "SSEA & Corn", "value": 0.32},
      {"date": "2019-09-26", "series": "SSEA & Corn", "value": 0.57},
      {"date": "2019-09-27", "series": "SSEA & Corn", "value": 0.67},
      {"date": "2019-09-29", "series": "SSEA & Corn", "value": 0.69},
      {"date": "2019-10-01", "series": "SSEA & Corn", "value": 1.11},
      {"date": "2019-10-03", "series": "SSEA & Corn", "value": 1.15},
      {"date": "2019-10-06", "series": "SSEA & Corn", "value": 1.13},
      {"date": "2019-10-08", "series": "SSEA & Corn", "value": 0.97},
      {"date": "2019-10-09", "series": "SSEA & Corn", "value": 1.1},
      {"date": "2019-10-11", "series": "SSEA & Corn", "value": 1.22},
      {"date": "2019-10-13", "series": "SSEA & Corn", "value": 1.22},
      {"date": "2019-10-14", "series": "SSEA & Corn", "value": 1.41},
      {"date": "2019-10-16", "series": "SSEA & Corn", "value": 1.43},
      {"date": "2019-10-19", "series": "SSEA & Corn", "value": 1.41},
      {"date": "2019-10-21", "series": "SSEA & Corn", "value": 1.43},
      {"date": "2019-10-24", "series": "SSEA & Corn", "value": 1.45},
      {"date": "2019-10-25", "series": "SSEA & Corn", "value": 1.25},
      {"date": "2019-10-27", "series": "SSEA & Corn", "value": 1.22},
      {"date": "2019-10-29", "series": "SSEA & Corn", "value": 0.92},
      {"date": "2019-10-30", "series": "SSEA & Corn", "value": 0.55},
      {"date": "2019-11-01", "series": "SSEA & Corn", "value": 0.36},
      {"date": "2019-11-03", "series": "SSEA & Corn", "value": 0.36},
      {"date": "2019-11-05", "series": "SSEA & Corn", "value": 0.27},
      {"date": "2019-11-09", "series": "SSEA & Corn", "value": 0.17},
      {"date": "2019-11-11", "series": "SSEA & Corn", "value": 0.15},
      {"date": "2019-11-13", "series": "SSEA & Corn", "value": 0.11},
      {"date": "2019-11-15", "series": "SSEA & Corn", "value": 0.24},
      {"date": "2019-11-18", "series": "SSEA & Corn", "value": 0.29},
      {"date": "2019-11-19", "series": "SSEA & Corn", "value": 0.45},
      {"date": "2019-11-21", "series": "SSEA & Corn", "value": 0.36},
      {"date": "2019-11-24", "series": "SSEA & Corn", "value": 0.38},
      {"date": "2019-11-27", "series": "SSEA & Corn", "value": 0.29},
      {"date": "2019-11-29", "series": "SSEA & Corn", "value": 0.43},
      {"date": "2019-12-01", "series": "SSEA & Corn", "value": 0.48},
      {"date": "2019-12-03", "series": "SSEA & Corn", "value": 0.66},
      {"date": "2019-12-05", "series": "SSEA & Corn", "value": 0.82},
      {"date": "2019-12-07", "series": "SSEA & Corn", "value": 0.73},
      {"date": "2019-12-09", "series": "SSEA & Corn", "value": 0.71},
      {"date": "2019-12-10", "series": "SSEA & Corn", "value": 0.57},
      {"date": "2019-12-11", "series": "SSEA & Corn", "value": 0.46},
      {"date": "2019-12-12", "series": "SSEA & Corn", "value": 0.36},
      {"date": "2019-12-13", "series": "SSEA & Corn", "value": 0.17},
      {"date": "2019-12-16", "series": "SSEA & Corn", "value": 0.15},
      {"date": "2019-12-18", "series": "SSEA & Corn", "value": 0.06},
      {"date": "2019-12-20", "series": "SSEA & Corn", "value": 0.08},
      {"date": "2019-12-24", "series": "SSEA & Corn", "value": 0.09},
      {"date": "2019-12-27", "series": "SSEA & Corn", "value": 0.15},
      {"date": "2019-12-30", "series": "SSEA & Corn", "value": 0.22},
      {"date": "2019-12-31", "series": "SSEA & Corn", "value": 0.25},
      {"date": "2020-01-13", "series": "SSEA & Corn", "value": 0.25},
      {"date": "2020-01-15", "series": "SSEA & Corn", "value": 0.13},
      {"date": "2020-01-19", "series": "SSEA & Corn", "value": 0.09},
      {"date": "2020-01-21", "series": "SSEA & Corn", "value": 0.02},
      {"date": "2020-01-24", "series": "SSEA & Corn", "value": 0.06},
      {"date": "2020-01-27", "series": "SSEA & Corn", "value": 0.08},
      {"date": "2020-01-30", "series": "SSEA & Corn", "value": 0.27},
      {"date": "2020-02-02", "series": "SSEA & Corn", "value": 0.31},
      {"date": "2020-02-03", "series": "SSEA & Corn", "value": 0.48},
      {"date": "2020-02-04", "series": "SSEA & Corn", "value": 0.73},
      {"date": "2020-02-06", "series": "SSEA & Corn", "value": 0.96},
      {"date": "2020-02-09", "series": "SSEA & Corn", "value": 0.97},
      {"date": "2020-02-10", "series": "SSEA & Corn", "value": 1.22},
      {"date": "2020-02-11", "series": "SSEA & Corn", "value": 1.06},
      {"date": "2020-02-13", "series": "SSEA & Corn", "value": 1.18},
      {"date": "2020-02-16", "series": "SSEA & Corn", "value": 1.2},
      {"date": "2020-02-19", "series": "SSEA & Corn", "value": 1.06},
      {"date": "2020-02-24", "series": "SSEA & Corn", "value": 1.06},
      {"date": "2020-02-25", "series": "SSEA & Corn", "value": 0.92},
      {"date": "2020-02-27", "series": "SSEA & Corn", "value": 0.62},
      {"date": "2020-03-01", "series": "SSEA & Corn", "value": 0.53},
      {"date": "2020-03-06", "series": "SSEA & Corn", "value": 0.52},
      {"date": "2020-03-10", "series": "SSEA & Corn", "value": 0.55},
      {"date": "2020-03-12", "series": "SSEA & Corn", "value": 0.48},
      {"date": "2020-03-17", "series": "SSEA & Corn", "value": 0.48},
      {"date": "2020-03-20", "series": "SSEA & Corn", "value": 0.32},
      {"date": "2019-07-11", "series": "SSEB & Corn", "value": 0.83},
      {"date": "2019-07-12", "series": "SSEB & Corn", "value": 0.73},
      {"date": "2019-07-15", "series": "SSEB & Corn", "value": 0.55},
      {"date": "2019-07-17", "series": "SSEB & Corn", "value": 0.5},
      {"date": "2019-07-19", "series": "SSEB & Corn", "value": 0.45},
      {"date": "2019-07-21", "series": "SSEB & Corn", "value": 0.5},
      {"date": "2019-07-23", "series": "SSEB & Corn", "value": 0.59},
      {"date": "2019-07-25", "series": "SSEB & Corn", "value": 0.83},
      {"date": "2019-07-27", "series": "SSEB & Corn", "value": 1.01},
      {"date": "2019-07-29", "series": "SSEB & Corn", "value": 1.03},
      {"date": "2019-07-31", "series": "SSEB & Corn", "value": 0.87},
      {"date": "2019-08-01", "series": "SSEB & Corn", "value": 0.76},
      {"date": "2019-08-03", "series": "SSEB & Corn", "value": 0.62},
      {"date": "2019-08-06", "series": "SSEB & Corn", "value": 0.59},
      {"date": "2019-08-08", "series": "SSEB & Corn", "value": 0.53},
      {"date": "2019-08-10", "series": "SSEB & Corn", "value": 0.36},
      {"date": "2019-08-12", "series": "SSEB & Corn", "value": 0.18},
      {"date": "2019-08-15", "series": "SSEB & Corn", "value": 0.15},
      {"date": "2019-08-17", "series": "SSEB & Corn", "value": 0.15},
      {"date": "2019-08-20", "series": "SSEB & Corn", "value": 0.32},
      {"date": "2019-08-22", "series": "SSEB & Corn", "value": 0.57},
      {"date": "2019-08-26", "series": "SSEB & Corn", "value": 0.62},
      {"date": "2019-08-29", "series": "SSEB & Corn", "value": 0.75},
      {"date": "2019-08-31", "series": "SSEB & Corn", "value": 0.78},
      {"date": "2019-09-04", "series": "SSEB & Corn", "value": 0.83},
      {"date": "2019-09-07", "series": "SSEB & Corn", "value": 0.85},
      {"date": "2019-09-09", "series": "SSEB & Corn", "value": 0.8},
      {"date": "2019-09-17", "series": "SSEB & Corn", "value": 0.78},
      {"date": "2019-09-19", "series": "SSEB & Corn", "value": 0.55},
      {"date": "2019-09-22", "series": "SSEB & Corn", "value": 0.43},
      {"date": "2019-09-24", "series": "SSEB & Corn", "value": 0.39},
      {"date": "2019-09-28", "series": "SSEB & Corn", "value": 0.29},
      {"date": "2019-10-01", "series": "SSEB & Corn", "value": 0.27},
      {"date": "2019-10-05", "series": "SSEB & Corn", "value": 0.25},
      {"date": "2019-10-08", "series": "SSEB & Corn", "value": 0.17},
      {"date": "2019-10-10", "series": "SSEB & Corn", "value": 0.01},
      {"date": "2019-10-13", "series": "SSEB & Corn", "value": 0.01},
      {"date": "2019-10-14", "series": "SSEB & Corn", "value": 0.13},
      {"date": "2019-10-17", "series": "SSEB & Corn", "value": 0.34},
      {"date": "2019-10-20", "series": "SSEB & Corn", "value": 0.45},
      {"date": "2019-10-22", "series": "SSEB & Corn", "value": 0.5},
      {"date": "2019-10-25", "series": "SSEB & Corn", "value": 0.45},
      {"date": "2019-10-29", "series": "SSEB & Corn", "value": 0.38},
      {"date": "2019-10-31", "series": "SSEB & Corn", "value": 0.32},
      {"date": "2019-11-04", "series": "SSEB & Corn", "value": 0.36},
      {"date": "2019-11-08", "series": "SSEB & Corn", "value": 0.45},
      {"date": "2019-11-11", "series": "SSEB & Corn", "value": 0.52},
      {"date": "2019-11-14", "series": "SSEB & Corn", "value": 0.62},
      {"date": "2019-11-18", "series": "SSEB & Corn", "value": 0.8},
      {"date": "2019-11-20", "series": "SSEB & Corn", "value": 0.96},
      {"date": "2019-11-23", "series": "SSEB & Corn", "value": 1.01},
      {"date": "2019-11-26", "series": "SSEB & Corn", "value": 1.08},
      {"date": "2019-11-29", "series": "SSEB & Corn", "value": 0.97},
      {"date": "2019-12-02", "series": "SSEB & Corn", "value": 0.97},
      {"date": "2019-12-05", "series": "SSEB & Corn", "value": 1.04},
      {"date": "2019-12-08", "series": "SSEB & Corn", "value": 0.99},
      {"date": "2019-12-10", "series": "SSEB & Corn", "value": 0.87},
      {"date": "2019-12-11", "series": "SSEB & Corn", "value": 0.67},
      {"date": "2019-12-12", "series": "SSEB & Corn", "value": 0.41},
      {"date": "2019-12-15", "series": "SSEB & Corn", "value": 0.17},
      {"date": "2019-12-17", "series": "SSEB & Corn", "value": 0.13},
      {"date": "2019-12-20", "series": "SSEB & Corn", "value": 0.09},
      {"date": "2019-12-24", "series": "SSEB & Corn", "value": 0.08},
      {"date": "2019-12-26", "series": "SSEB & Corn", "value": 0.04},
      {"date": "2019-12-30", "series": "SSEB & Corn", "value": 0.06},
      {"date": "2020-01-13", "series": "SSEB & Corn", "value": 0.06},
      {"date": "2020-01-15", "series": "SSEB & Corn", "value": 0.13},
      {"date": "2020-01-19", "series": "SSEB & Corn", "value": 0.17},
      {"date": "2020-01-21", "series": "SSEB & Corn", "value": 0.34},
      {"date": "2020-01-24", "series": "SSEB & Corn", "value": 0.75},
      {"date": "2020-01-27", "series": "SSEB & Corn", "value": 0.87},
      {"date": "2020-01-29", "series": "SSEB & Corn", "value": 1.36},
      {"date": "2020-01-31", "series": "SSEB & Corn", "value": 1.96},
      {"date": "2020-02-01", "series": "SSEB & Corn", "value": 1.85},
      {"date": "2020-02-03", "series": "SSEB & Corn", "value": 1.85},
      {"date": "2020-02-04", "series": "SSEB & Corn", "value": 1.64},
      {"date": "2020-02-06", "series": "SSEB & Corn", "value": 1.4},
      {"date": "2020-02-07", "series": "SSEB & Corn", "value": 1.29},
      {"date": "2020-02-08", "series": "SSEB & Corn", "value": 1.17},
      {"date": "2020-02-10", "series": "SSEB & Corn", "value": 1.17},
      {"date": "2020-02-11", "series": "SSEB & Corn", "value": 1.47},
      {"date": "2020-02-12", "series": "SSEB & Corn", "value": 1.83},
      {"date": "2020-02-14", "series": "SSEB & Corn", "value": 2.13},
      {"date": "2020-02-16", "series": "SSEB & Corn", "value": 2.33},
      {"date": "2020-02-18", "series": "SSEB & Corn", "value": 2.43},
      {"date": "2020-02-19", "series": "SSEB & Corn", "value": 2.33},
      {"date": "2020-02-23", "series": "SSEB & Corn", "value": 2.33},
      {"date": "2020-02-24", "series": "SSEB & Corn", "value": 2.13},
      {"date": "2020-02-25", "series": "SSEB & Corn", "value": 1.78},
      {"date": "2020-02-26", "series": "SSEB & Corn", "value": 1.25},
      {"date": "2020-02-28", "series": "SSEB & Corn", "value": 0.73},
      {"date": "2020-02-29", "series": "SSEB & Corn", "value": 0.52},
      {"date": "2020-03-02", "series": "SSEB & Corn", "value": 0.17},
      {"date": "2020-03-03", "series": "SSEB & Corn", "value": 0.18},
      {"date": "2020-03-05", "series": "SSEB & Corn", "value": 0.32},
      {"date": "2020-03-09", "series": "SSEB & Corn", "value": 0.43},
      {"date": "2020-03-12", "series": "SSEB & Corn", "value": 0.38},
      {"date": "2020-03-17", "series": "SSEB & Corn", "value": 0.38},
      {"date": "2020-03-20", "series": "SSEB & Corn", "value": 0.31}
    ]
  },
  "concat": [
    {
      "width": 630,
      "height": 333,
      "title": {"text": "a) SSEA, SSEB & Oil", "offset": 17},
      "encoding": {
        "x": {
          "field": "date", "type": "temporal",
          "scale": {"type": "utc", "domain": [{"year": 2019, "month": 6, "date": 30, "hours": 12, "utc": true}, {"year": 2020, "month": 3, "date": 21, "hours": 12, "utc": true}]},
          "axis": {"title": null, "labelExpr": "utcFormat(datum.value, '%b/%y')", "values": [
            {"year": 2019, "month": 7, "date": 1, "utc": true}, {"year": 2019, "month": 8, "date": 1, "utc": true}, {"year": 2019, "month": 9, "date": 1, "utc": true},
            {"year": 2019, "month": 10, "date": 1, "utc": true}, {"year": 2019, "month": 11, "date": 1, "utc": true}, {"year": 2019, "month": 12, "date": 1, "utc": true},
            {"year": 2020, "month": 1, "date": 1, "utc": true}, {"year": 2020, "month": 2, "date": 1, "utc": true}, {"year": 2020, "month": 3, "date": 1, "utc": true}]}
        }
      },
      "layer": [
        {
          "data": {"name": "oil"},
          "mark": {"type": "line", "interpolate": "step-after"},
          "encoding": {
            "y": {"field": "value", "type": "quantitative", "scale": {"domain": [-12, 2], "nice": false, "zero": false},
                  "axis": {"title": "Time-varying Spillover", "values": [-12, -10, -8, -6, -4, -2, 0, 2], "labelExpr": "toString(datum.value)"}},
            "color": {"field": "series", "type": "nominal", "scale": {"domain": ["SSEA & Oil", "SSEB & Oil"], "range": ["#3a3a3a", "#9e9e9e"]},
                      "legend": {"title": null, "orient": "none", "direction": "horizontal", "legendX": 44, "legendY": 12}},
            "strokeDash": {"field": "series", "type": "nominal", "scale": {"domain": ["SSEA & Oil", "SSEB & Oil"], "range": [[1, 0], [1.5, 1.2]]},
                      "legend": {"title": null, "orient": "none", "direction": "horizontal", "legendX": 44, "legendY": 12}},
            "strokeWidth": {"field": "series", "type": "nominal", "scale": {"type": "ordinal", "domain": ["SSEA & Oil", "SSEB & Oil"], "range": [1.8, 1.1]}, "legend": null}
          }
        },
        {
          "data": {"name": "events"},
          "mark": {"type": "rule", "color": "#ef6f6f", "strokeWidth": 1},
          "encoding": {}
        }
      ]
    },
    {
      "width": 624,
      "height": 333,
      "title": {"text": "b) SSEA, SSEB & Bitcoin", "offset": 17},
      "encoding": {
        "x": {
          "field": "date", "type": "temporal",
          "scale": {"type": "utc", "domain": [{"year": 2019, "month": 6, "date": 30, "hours": 12, "utc": true}, {"year": 2020, "month": 3, "date": 21, "hours": 12, "utc": true}]},
          "axis": {"title": null, "labelExpr": "utcFormat(datum.value, '%b/%y')", "values": [
            {"year": 2019, "month": 7, "date": 1, "utc": true}, {"year": 2019, "month": 8, "date": 1, "utc": true}, {"year": 2019, "month": 9, "date": 1, "utc": true},
            {"year": 2019, "month": 10, "date": 1, "utc": true}, {"year": 2019, "month": 11, "date": 1, "utc": true}, {"year": 2019, "month": 12, "date": 1, "utc": true},
            {"year": 2020, "month": 1, "date": 1, "utc": true}, {"year": 2020, "month": 2, "date": 1, "utc": true}, {"year": 2020, "month": 3, "date": 1, "utc": true}]}
        }
      },
      "layer": [
        {
          "data": {"name": "bitcoin"},
          "mark": {"type": "line", "interpolate": "step-after"},
          "encoding": {
            "y": {"field": "value", "type": "quantitative", "scale": {"domain": [-1.5, 3.5], "nice": false, "zero": false},
                  "axis": {"title": "Time-varying Spillover", "values": [-1.5, -1, -0.5, 0, 0.5, 1, 1.5, 2, 2.5, 3, 3.5], "labelExpr": "toString(datum.value)"}},
            "color": {"field": "series", "type": "nominal", "scale": {"domain": ["SSEA & Bitcoin", "SSEB & Bitcoin"], "range": ["#3a3a3a", "#9e9e9e"]},
                      "legend": {"title": null, "orient": "none", "direction": "horizontal", "legendX": 46, "legendY": 12}},
            "strokeDash": {"field": "series", "type": "nominal", "scale": {"domain": ["SSEA & Bitcoin", "SSEB & Bitcoin"], "range": [[1, 0], [1.5, 1.2]]},
                      "legend": {"title": null, "orient": "none", "direction": "horizontal", "legendX": 46, "legendY": 12}},
            "strokeWidth": {"field": "series", "type": "nominal", "scale": {"type": "ordinal", "domain": ["SSEA & Bitcoin", "SSEB & Bitcoin"], "range": [1.3, 1.1]}, "legend": null}
          }
        },
        {
          "data": {"name": "events"},
          "mark": {"type": "rule", "color": "#ef6f6f", "strokeWidth": 1},
          "encoding": {}
        }
      ]
    },
    {
      "width": 630,
      "height": 333,
      "title": "c) SSEA, SSEB & US Dollar ($)",
      "encoding": {
        "x": {
          "field": "date", "type": "temporal",
          "scale": {"type": "utc", "domain": [{"year": 2019, "month": 6, "date": 30, "hours": 12, "utc": true}, {"year": 2020, "month": 3, "date": 21, "hours": 12, "utc": true}]},
          "axis": {"title": null, "labelExpr": "utcFormat(datum.value, '%b/%y')", "values": [
            {"year": 2019, "month": 7, "date": 1, "utc": true}, {"year": 2019, "month": 8, "date": 1, "utc": true}, {"year": 2019, "month": 9, "date": 1, "utc": true},
            {"year": 2019, "month": 10, "date": 1, "utc": true}, {"year": 2019, "month": 11, "date": 1, "utc": true}, {"year": 2019, "month": 12, "date": 1, "utc": true},
            {"year": 2020, "month": 1, "date": 1, "utc": true}, {"year": 2020, "month": 2, "date": 1, "utc": true}, {"year": 2020, "month": 3, "date": 1, "utc": true}]}
        }
      },
      "layer": [
        {
          "data": {"name": "usd"},
          "mark": {"type": "line", "interpolate": "step-after"},
          "encoding": {
            "y": {"field": "value", "type": "quantitative", "scale": {"domain": [-7, 1], "nice": false, "zero": false},
                  "axis": {"title": "Time-varying Spillover", "values": [-7, -6, -5, -4, -3, -2, -1, 0, 1], "labelExpr": "toString(datum.value)"}},
            "color": {"field": "series", "type": "nominal", "scale": {"domain": ["SSEA & USD$", "SSEB & USD$"], "range": ["#3a3a3a", "#9e9e9e"]},
                      "legend": {"title": null, "orient": "none", "direction": "horizontal", "legendX": 46, "legendY": 12}},
            "strokeDash": {"field": "series", "type": "nominal", "scale": {"domain": ["SSEA & USD$", "SSEB & USD$"], "range": [[1, 0], [1.5, 1.2]]},
                      "legend": {"title": null, "orient": "none", "direction": "horizontal", "legendX": 46, "legendY": 12}},
            "strokeWidth": {"field": "series", "type": "nominal", "scale": {"type": "ordinal", "domain": ["SSEA & USD$", "SSEB & USD$"], "range": [1.3, 1.1]}, "legend": null}
          }
        },
        {
          "data": {"name": "events"},
          "mark": {"type": "rule", "color": "#ef6f6f", "strokeWidth": 1},
          "encoding": {}
        }
      ]
    },
    {
      "width": 624,
      "height": 333,
      "title": "d) SSEA, SSEB & Corn",
      "encoding": {
        "x": {
          "field": "date", "type": "temporal",
          "scale": {"type": "utc", "domain": [{"year": 2019, "month": 6, "date": 30, "hours": 12, "utc": true}, {"year": 2020, "month": 3, "date": 21, "hours": 12, "utc": true}]},
          "axis": {"title": null, "labelExpr": "utcFormat(datum.value, '%b/%y')", "values": [
            {"year": 2019, "month": 7, "date": 1, "utc": true}, {"year": 2019, "month": 8, "date": 1, "utc": true}, {"year": 2019, "month": 9, "date": 1, "utc": true},
            {"year": 2019, "month": 10, "date": 1, "utc": true}, {"year": 2019, "month": 11, "date": 1, "utc": true}, {"year": 2019, "month": 12, "date": 1, "utc": true},
            {"year": 2020, "month": 1, "date": 1, "utc": true}, {"year": 2020, "month": 2, "date": 1, "utc": true}, {"year": 2020, "month": 3, "date": 1, "utc": true}]}
        }
      },
      "layer": [
        {
          "data": {"name": "corn"},
          "mark": {"type": "line", "interpolate": "step-after"},
          "encoding": {
            "y": {"field": "value", "type": "quantitative", "scale": {"domain": [-0.5, 3], "nice": false, "zero": false},
                  "axis": {"title": "Time-varying Spillover", "values": [-0.5, 0, 0.5, 1, 1.5, 2, 2.5, 3], "labelExpr": "toString(datum.value)"}},
            "color": {"field": "series", "type": "nominal", "scale": {"domain": ["SSEA & Corn", "SSEB & Corn"], "range": ["#3a3a3a", "#9e9e9e"]},
                      "legend": {"title": null, "orient": "none", "direction": "horizontal", "legendX": 45, "legendY": 12}},
            "strokeDash": {"field": "series", "type": "nominal", "scale": {"domain": ["SSEA & Corn", "SSEB & Corn"], "range": [[1, 0], [1.5, 1.2]]},
                      "legend": {"title": null, "orient": "none", "direction": "horizontal", "legendX": 45, "legendY": 12}},
            "strokeWidth": {"field": "series", "type": "nominal", "scale": {"type": "ordinal", "domain": ["SSEA & Corn", "SSEB & Corn"], "range": [1.3, 1.1]}, "legend": null}
          }
        },
        {
          "data": {"name": "events"},
          "mark": {"type": "rule", "color": "#ef6f6f", "strokeWidth": 1},
          "encoding": {}
        }
      ]
    }
  ],
  "resolve": {
    "scale": {"x": "independent", "y": "independent", "color": "independent", "strokeDash": "independent", "strokeWidth": "independent"},
    "axis": {"x": "independent", "y": "independent"},
    "legend": {"color": "independent", "strokeDash": "independent"}
  },
  "config": {
    "view": {"stroke": null},
    "font": "Lato",
    "axis": {
      "domain": false, "ticks": false,
      "labelFont": "Lato", "labelFontSize": 8, "labelColor": "#595959",
      "titleFont": "Lato", "titleFontSize": 8, "titleFontWeight": "normal", "titleColor": "#595959",
      "gridColor": "#e2e2e2", "gridWidth": 1
    },
    "axisX": {"grid": false, "labelFlush": false, "labelOverlap": false, "labelPadding": 5},
    "axisY": {"grid": true, "labelPadding": 4, "titlePadding": 4, "minExtent": 16, "maxExtent": 16},
    "title": {"font": "Liberation Serif", "fontSize": 21, "fontWeight": "normal", "color": "#1a1a1a", "anchor": "middle", "offset": 14},
    "legend": {
      "symbolType": "stroke", "symbolSize": 289, "symbolStrokeWidth": 1.5,
      "labelFont": "Lato", "labelFontSize": 7.5, "labelColor": "#595959",
      "labelOffset": 2, "columnPadding": 9, "padding": 0
    }
  }
}
